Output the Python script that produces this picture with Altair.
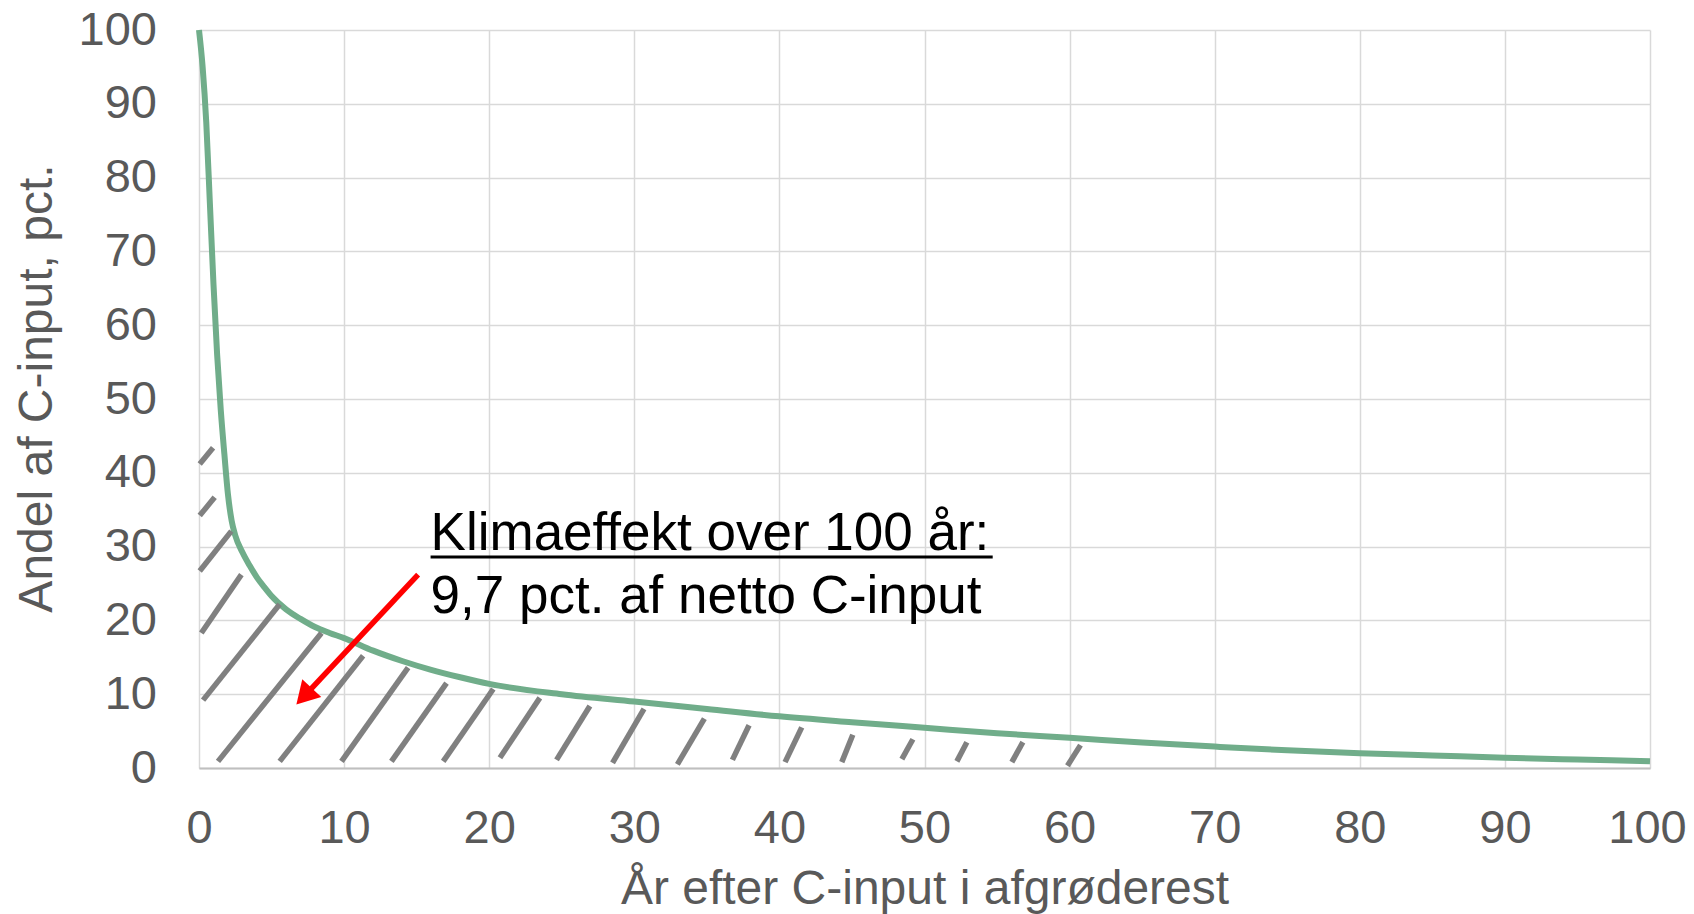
import math
import altair as alt
import pandas as pd

# ---- data ----
years = [0, 0.25, 0.5, 0.75, 1.0, 1.25, 1.5, 1.75, 2.0, 2.25, 2.5, 3, 3.5, 4, 4.5, 5,
         6, 7, 8, 9, 10, 12, 14, 16, 18, 20, 25, 30, 35, 40, 45, 50, 55, 60, 65, 70,
         75, 80, 85, 90, 95, 100]
share = [100, 95, 87.5, 76.5, 65.5, 56, 48.5, 42.5, 37, 33.5, 31.5, 29.2, 27.4, 25.8, 24.5, 23.3,
         21.5, 20.2, 19.1, 18.3, 17.6, 15.9, 14.5, 13.3, 12.3, 11.4, 10.0, 9.0, 8.0, 7.0, 6.2, 5.45,
         4.7, 4.1, 3.45, 2.9, 2.4, 2.0, 1.7, 1.4, 1.15, 0.9]

x_ticks = list(range(0, 101, 10))
y_ticks = list(range(0, 101, 10))

# hatch segments (data units)
hatch_x0 = [0.05, 0.05, 0.05, 0.16, 0.28, 1.31, 5.56, 9.82, 13.26, 16.83, 20.74, 24.64,
            28.5, 32.97, 36.76, 40.39, 44.3, 48.44, 52.23, 56.02, 59.85]
hatch_y0 = [41.2, 34.2, 26.7, 18.3, 9.2, 0.9, 0.9, 0.9, 0.9, 0.9, 1.4, 1.1,
            0.7, 0.5, 1.1, 0.8, 0.8, 1.2, 0.9, 0.8, 0.3]
hatch_x1 = [0.97, 1.08, 2.23, 2.92, 5.56, 8.44, 11.31, 14.41, 17.06, 20.28, 23.49, 26.94,
            30.67, 34.83, 37.91, 41.54, 45.06, 49.2, 52.92, 56.78, 60.75]
hatch_y1 = [43.4, 36.7, 32.1, 26.2, 22.2, 18.3, 15.2, 13.6, 11.5, 10.7, 9.5, 8.4,
            8.0, 6.7, 5.8, 5.5, 4.5, 3.9, 3.5, 3.5, 3.1]

# annotation
note_lines = ["Klimaeffekt over 100 år:", "9,7 pct. af netto C-input"]
note_x = [15.96, 15.96]
note_y = [29.5, 21.0]
underline_x = [15.96, 54.7]
underline_y = 28.6
arrow_start = (15.1, 26.2)
arrow_tip = (6.71, 8.6)

# ---- layout ----
W, H = 1451, 738
PAD_L, PAD_T = 191, 22
TOTAL_W, TOTAL_H = 1678, 906
FONT = "Liberation Sans, Arial, sans-serif"
GREY = "#595959"

xs = alt.Scale(domain=[0, 100], nice=False, zero=True)
ys = alt.Scale(domain=[0, 100], nice=False, zero=True)

x_axis = alt.Axis(
    values=x_ticks, grid=True, gridColor="#D9D9D9", gridWidth=1.5,
    domain=True, domainColor="#BFBFBF", domainWidth=2, ticks=False,
    labelFontSize=47, labelColor=GREY, labelFont=FONT, labelPadding=37,
    labelFlush=False, labelOverlap=False,
    labelOffset=alt.condition("datum.value == 100", alt.value(-3), alt.value(0)),
    title="År efter C-input i afgrøderest", titleFontSize=48, titleColor=GREY,
    titleFont=FONT, titleFontWeight="normal", titleX=W / 2, titleY=135,
    titleBaseline="alphabetic", titleAlign="center")
y_axis = alt.Axis(
    values=y_ticks, grid=True, gridColor="#D9D9D9", gridWidth=1.5,
    domain=False, ticks=False,
    labelFontSize=47, labelColor=GREY, labelFont=FONT, labelPadding=42.5,
    labelFlush=False, labelOverlap=False,
    title="Andel af C-input, pct.", titleFontSize=48, titleColor=GREY,
    titleFont=FONT, titleFontWeight="normal", titleAngle=270,
    titleX=-147.5, titleY=358, titleBaseline="alphabetic", titleAlign="center")

X = alt.X("x:Q", scale=xs, axis=x_axis)
Y = alt.Y("y:Q", scale=ys, axis=y_axis)

curve = pd.DataFrame({"x": years, "y": share})
line = alt.Chart(curve).mark_line(
    color="#70AD8A", strokeWidth=6, interpolate="monotone"
).encode(x=X, y=Y)

hatch_df = pd.DataFrame({"x": hatch_x0, "y": hatch_y0, "x2": hatch_x1, "y2": hatch_y1})
hatch = alt.Chart(hatch_df).mark_rule(color="#808080", strokeWidth=5.5, strokeCap="butt").encode(
    x=X, y=Y, x2="x2:Q", y2="y2:Q")

# arrow geometry (pixel-space direction for head placement)
pxu, pyu = W / 100.0, H / 100.0
dxp = (arrow_tip[0] - arrow_start[0]) * pxu
dyp = (arrow_tip[1] - arrow_start[1]) * pyu
L = math.hypot(dxp, dyp)
ux, uy = dxp / L, dyp / L
head = 26.0
h = 0.433 * head
cx = arrow_tip[0] - ux * h / pxu
cy = arrow_tip[1] - uy * h / pyu
ang = math.degrees(math.atan2(ux, uy)) % 360

shaft_df = pd.DataFrame({"x": [arrow_start[0]], "y": [arrow_start[1]], "x2": [cx], "y2": [cy]})
shaft = alt.Chart(shaft_df).mark_rule(color="#FF0000", strokeWidth=5.5).encode(
    x=X, y=Y, x2="x2:Q", y2="y2:Q")

head_df = pd.DataFrame({"x": [cx], "y": [cy]})
head_mark = alt.Chart(head_df).mark_point(
    shape="triangle-up", filled=True, size=head * head, color="#FF0000", opacity=1,
    angle=ang, strokeWidth=0
).encode(x=X, y=Y)

note_df = pd.DataFrame({"x": note_x, "y": note_y, "t": note_lines})
note = alt.Chart(note_df).mark_text(
    align="left", baseline="alphabetic", fontSize=53, font=FONT, color="#000000"
).encode(x=X, y=Y, text="t:N")

ul_df = pd.DataFrame({"x": [underline_x[0]], "x2": [underline_x[1]], "y": [underline_y]})
underline = alt.Chart(ul_df).mark_rule(color="#000000", strokeWidth=3).encode(
    x=X, x2="x2:Q", y=Y)

chart = alt.layer(line, hatch, shaft, head_mark, note, underline).properties(
    width=W, height=H,
    autosize=alt.AutoSizeParams(type="none"),
    padding={"left": PAD_L, "top": PAD_T, "right": TOTAL_W - PAD_L - W,
             "bottom": TOTAL_H - PAD_T - H},
    background="white",
).configure_view(stroke=None)

chart.save("out.html", embed_options={"renderer": "svg", "actions": False})
